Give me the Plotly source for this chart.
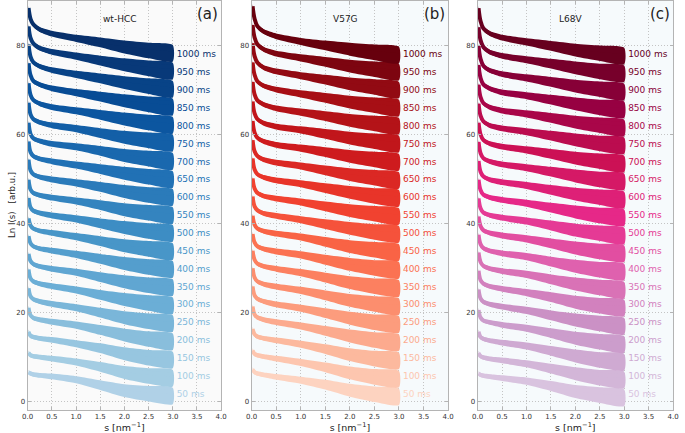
import plotly.graph_objects as go
import plotly.express as px
from plotly.colors import sample_colorscale

S = [0.02, 0.06, 0.12, 0.25, 0.5, 1.0, 1.5, 2.0, 2.5, 3.0]

TIMES = ["50 ms", "100 ms", "150 ms", "200 ms", "250 ms", "300 ms", "350 ms", "400 ms",
         "450 ms", "500 ms", "550 ms", "600 ms", "650 ms", "700 ms", "750 ms", "800 ms",
         "850 ms", "900 ms", "950 ms", "1000 ms"]

LABEL_Y = [1.5, 5.5, 9.5, 13.6, 17.6, 21.6, 25.6, 29.6, 33.7, 37.7,
           41.7, 45.7, 49.7, 53.7, 57.7, 61.7, 65.7, 69.8, 73.8, 77.9]

# scatter spread of each band above / below its trend (arb.u.)
SPREAD_UP = [0.5, 0.5, 0.5, 0.55, 0.6, 0.7, 0.8, 0.9, 1.0, 1.0]
SPREAD_DOWN = [0.5, 0.5, 0.5, 0.55, 0.7, 0.9, 1.4, 2.0, 2.5, 2.7]

WT_HCC = [
    [6.5, 6.2, 6.0, 5.8, 5.6, 4.9, 3.9, 2.9, 2.4, 2.0],
    [10.9, 10.3, 10.1, 9.9, 9.6, 8.9, 8.0, 7.0, 6.4, 6.0],
    [15.6, 14.7, 14.4, 14.1, 13.8, 13.0, 12.2, 11.2, 10.5, 10.1],
    [21.0, 19.3, 18.7, 18.3, 17.9, 17.2, 16.3, 15.4, 14.7, 14.2],
    [25.4, 23.6, 22.9, 22.4, 21.9, 21.1, 20.2, 19.3, 18.7, 18.3],
    [29.6, 27.6, 26.9, 26.4, 25.9, 25.1, 24.2, 23.4, 22.8, 22.3],
    [33.1, 31.5, 30.8, 30.3, 29.8, 29.1, 28.2, 27.4, 26.8, 26.4],
    [37.1, 35.5, 34.8, 34.3, 33.9, 33.1, 32.3, 31.5, 30.9, 30.5],
    [41.1, 39.5, 38.8, 38.3, 37.9, 37.1, 36.3, 35.5, 35.0, 34.5],
    [45.7, 43.6, 42.8, 42.3, 41.8, 41.1, 40.3, 39.6, 39.0, 38.6],
    [49.8, 47.6, 46.8, 46.3, 45.8, 45.1, 44.4, 43.6, 43.1, 42.6],
    [54.3, 51.9, 51.0, 50.4, 49.9, 49.2, 48.5, 47.7, 47.1, 46.7],
    [58.4, 56.0, 55.1, 54.5, 54.0, 53.2, 52.5, 51.8, 51.2, 50.7],
    [62.6, 60.1, 59.1, 58.5, 57.9, 57.3, 56.6, 55.8, 55.3, 54.8],
    [67.1, 64.5, 63.4, 62.7, 62.1, 61.4, 60.6, 59.9, 59.4, 58.9],
    [71.5, 68.9, 67.7, 66.9, 66.2, 65.4, 64.7, 64.0, 63.4, 62.9],
    [76.0, 73.3, 72.0, 71.2, 70.4, 69.5, 68.8, 68.1, 67.5, 67.0],
    [80.2, 77.5, 76.2, 75.3, 74.5, 73.6, 72.9, 72.2, 71.6, 71.0],
    [84.3, 81.7, 80.4, 79.4, 78.6, 77.7, 76.9, 76.2, 75.6, 75.1],
    [88.4, 86.0, 84.7, 83.6, 82.7, 81.7, 81.0, 80.2, 79.6, 79.1],
]

V57G = [
    [7.1, 6.5, 6.2, 5.9, 5.5, 4.8, 4.0, 3.0, 2.3, 1.8],
    [11.4, 10.6, 10.3, 10.0, 9.6, 8.8, 7.9, 6.9, 6.2, 5.8],
    [16.2, 15.0, 14.5, 14.1, 13.7, 12.9, 12.0, 11.0, 10.3, 9.9],
    [21.3, 19.5, 18.8, 18.3, 17.8, 17.0, 16.1, 15.2, 14.5, 14.0],
    [25.8, 23.8, 23.0, 22.4, 21.8, 21.0, 20.1, 19.2, 18.5, 18.1],
    [29.9, 27.8, 26.9, 26.3, 25.8, 25.0, 24.1, 23.2, 22.6, 22.1],
    [33.8, 31.8, 30.9, 30.3, 29.8, 29.0, 28.1, 27.2, 26.6, 26.2],
    [37.6, 35.7, 34.8, 34.2, 33.7, 33.0, 32.1, 31.3, 30.7, 30.3],
    [41.7, 39.7, 38.8, 38.2, 37.7, 37.0, 36.1, 35.3, 34.8, 34.3],
    [46.0, 43.8, 42.9, 42.2, 41.7, 40.9, 40.1, 39.4, 38.8, 38.4],
    [50.1, 47.8, 46.8, 46.1, 45.6, 44.9, 44.1, 43.4, 42.9, 42.4],
    [54.6, 52.1, 51.0, 50.3, 49.7, 49.0, 48.2, 47.5, 46.9, 46.5],
    [58.7, 56.2, 55.1, 54.3, 53.7, 53.0, 52.2, 51.5, 51.0, 50.5],
    [63.0, 60.4, 59.2, 58.4, 57.7, 57.0, 56.3, 55.6, 55.1, 54.6],
    [67.4, 64.7, 63.4, 62.5, 61.8, 61.1, 60.4, 59.7, 59.2, 58.7],
    [71.8, 69.0, 67.6, 66.7, 65.9, 65.1, 64.4, 63.7, 63.2, 62.7],
    [76.2, 73.4, 71.9, 70.9, 70.1, 69.2, 68.5, 67.8, 67.3, 66.8],
    [80.5, 77.6, 76.1, 75.0, 74.2, 73.3, 72.6, 71.9, 71.4, 70.8],
    [84.6, 81.8, 80.2, 79.1, 78.2, 77.3, 76.6, 75.9, 75.4, 74.9],
    [88.8, 86.0, 84.3, 83.1, 82.1, 81.0, 80.3, 79.7, 79.2, 78.7],
]

L68V = [
    [6.2, 5.9, 5.7, 5.5, 5.2, 4.6, 3.7, 2.7, 2.1, 1.6],
    [10.8, 10.1, 9.8, 9.5, 9.2, 8.5, 7.6, 6.7, 6.0, 5.6],
    [15.6, 14.4, 14.0, 13.6, 13.2, 12.5, 11.6, 10.7, 10.0, 9.6],
    [20.5, 18.8, 18.1, 17.7, 17.2, 16.5, 15.6, 14.7, 14.1, 13.6],
    [25.1, 23.1, 22.3, 21.8, 21.3, 20.5, 19.6, 18.8, 18.2, 17.7],
    [29.3, 27.2, 26.4, 25.8, 25.3, 24.5, 23.7, 22.8, 22.2, 21.8],
    [33.4, 31.3, 30.4, 29.8, 29.3, 28.6, 27.7, 26.9, 26.3, 25.8],
    [37.4, 35.3, 34.4, 33.8, 33.3, 32.6, 31.7, 30.9, 30.3, 29.9],
    [41.5, 39.4, 38.4, 37.8, 37.3, 36.6, 35.8, 35.0, 34.4, 34.0],
    [45.6, 43.4, 42.4, 41.8, 41.3, 40.6, 39.8, 39.0, 38.5, 38.0],
    [49.8, 47.5, 46.4, 45.8, 45.3, 44.6, 43.8, 43.1, 42.5, 42.1],
    [54.0, 51.6, 50.5, 49.8, 49.3, 48.6, 47.8, 47.1, 46.6, 46.1],
    [58.3, 55.8, 54.6, 53.9, 53.3, 52.6, 51.9, 51.2, 50.6, 50.2],
    [62.6, 60.0, 58.7, 57.9, 57.3, 56.6, 55.9, 55.2, 54.7, 54.2],
    [66.9, 64.2, 62.9, 62.0, 61.4, 60.7, 60.0, 59.3, 58.7, 58.3],
    [71.2, 68.4, 67.0, 66.1, 65.4, 64.7, 64.0, 63.3, 62.8, 62.3],
    [75.6, 72.7, 71.2, 70.3, 69.5, 68.8, 68.1, 67.4, 66.8, 66.4],
    [79.9, 77.0, 75.4, 74.4, 73.6, 72.8, 72.1, 71.4, 70.9, 70.4],
    [84.1, 81.2, 79.6, 78.5, 77.7, 76.9, 76.2, 75.5, 74.9, 74.5],
    [88.4, 85.5, 83.8, 82.7, 81.8, 80.9, 80.2, 79.5, 79.0, 78.5],
]

PANEL_NAMES = ["wt-HCC", "V57G", "L68V"]
PANEL_LETTERS = ["(a)", "(b)", "(c)"]
X_TICKS = [0.0, 0.5, 1.0, 1.5, 2.0, 2.5, 3.0, 3.5, 4.0]
Y_TICKS = [0, 20, 40, 60, 80]

FONT = "DejaVu Sans"
W, H = 685, 433
X_DOMAINS = [[22 / W, 219 / W], [250 / W, 450 / W], [480 / W, 679 / W]]
Y_DOMAIN = [1 - 410 / H, 1 - 1 / H]
BGS = ["#fafafa", "#f6fafc", "#f6fafc"]

panels = [
    (WT_HCC, px.colors.sequential.Blues, 0.32, 1.0),
    (V57G, px.colors.sequential.Reds, 0.17, 1.0),
    (L68V, px.colors.sequential.PuRd, 0.22, 1.0),
]

fig = go.Figure()
for p, (data, scale, c0, c1) in enumerate(panels):
    xa = "x" if p == 0 else f"x{p + 1}"
    ya = "y" if p == 0 else f"y{p + 1}"
    n = len(data)
    cols = sample_colorscale(scale, [c0 + (c1 - c0) * k / (n - 1) for k in range(n)])
    for k, vals in enumerate(data):
        col = cols[k]
        upper = [v + u for v, u in zip(vals, SPREAD_UP)]
        lower = [v - d for v, d in zip(vals, SPREAD_DOWN)]
        fig.add_trace(go.Scatter(
            x=S + S[::-1], y=upper + lower[::-1], mode="lines", fill="toself",
            fillcolor=col, line=dict(width=0, color=col, shape="spline", smoothing=0.6),
            xaxis=xa, yaxis=ya, hoverinfo="skip"))
        fig.add_trace(go.Scatter(
            x=S, y=vals, mode="lines", line=dict(width=4, color=col, shape="spline"),
            xaxis=xa, yaxis=ya, hoverinfo="skip"))
    fig.add_trace(go.Scatter(
        x=[3.08] * n, y=LABEL_Y, mode="text", text=TIMES, textposition="middle right",
        textfont=dict(family=FONT, size=9, color=cols), xaxis=xa, yaxis=ya,
        hoverinfo="skip", cliponaxis=False))

axis_common = dict(
    showline=True, linecolor="#b4b4b4", linewidth=1, mirror="ticks",
    ticks="inside", ticklen=3, tickcolor="#b4b4b4",
    showgrid=True, gridcolor="#c4c4c4", griddash="1px,2px", gridwidth=1,
    zeroline=False, tickfont=dict(family=FONT, size=7, color="#333333"),
)

layout = dict(
    width=W, height=H, margin=dict(l=0, r=0, t=0, b=0),
    paper_bgcolor="white", showlegend=False,
    font=dict(family=FONT, color="#222222"),
)
annotations = []
for p in range(3):
    sx = "" if p == 0 else str(p + 1)
    layout["xaxis" + sx] = dict(
        axis_common, domain=X_DOMAINS[p], range=[0, 4], tickvals=X_TICKS,
        ticktext=[f"{t:.1f}" for t in X_TICKS], anchor="y" + sx,
        title=dict(text="s [nm<sup>−1</sup>]", font=dict(family=FONT, size=9.5, color="#222222"),
                   standoff=2))
    layout["yaxis" + sx] = dict(
        axis_common, domain=Y_DOMAIN, range=[-2, 90], tickvals=Y_TICKS,
        anchor="x" + sx)
    annotations.append(dict(
        text=PANEL_NAMES[p], xref=f"x{sx} domain", yref=f"y{sx} domain",
        x=0.477, y=0.955, showarrow=False, xanchor="center", yanchor="middle",
        font=dict(family=FONT, size=9, color="#222222")))
    annotations.append(dict(
        text=PANEL_LETTERS[p], xref=f"x{sx} domain", yref=f"y{sx} domain",
        x=0.995, y=0.968, showarrow=False, xanchor="right", yanchor="middle",
        font=dict(family=FONT, size=15, color="#222222")))

annotations.append(dict(
    text="Ln I(s)   [arb.u.]", xref="paper", yref="paper", x=6 / W, y=1 - 205 / H,
    showarrow=False, textangle=-90, xanchor="center", yanchor="middle",
    font=dict(family=FONT, size=8.5, color="#222222")))

layout["annotations"] = annotations
fig.update_layout(**layout)

# per-panel background rectangles
shapes = []
for p in range(3):
    sx = "" if p == 0 else str(p + 1)
    shapes.append(dict(type="rect", xref=f"x{sx} domain", yref=f"y{sx} domain",
                       x0=0, x1=1, y0=0, y1=1, fillcolor=BGS[p], line=dict(width=0),
                       layer="below"))
fig.update_layout(shapes=shapes, plot_bgcolor="rgba(0,0,0,0)")

fig.write_html(
    "out.html",
    config={"displayModeBar": False},
    post_script="document.body.style.margin='0';document.body.style.overflow='hidden';",
)
